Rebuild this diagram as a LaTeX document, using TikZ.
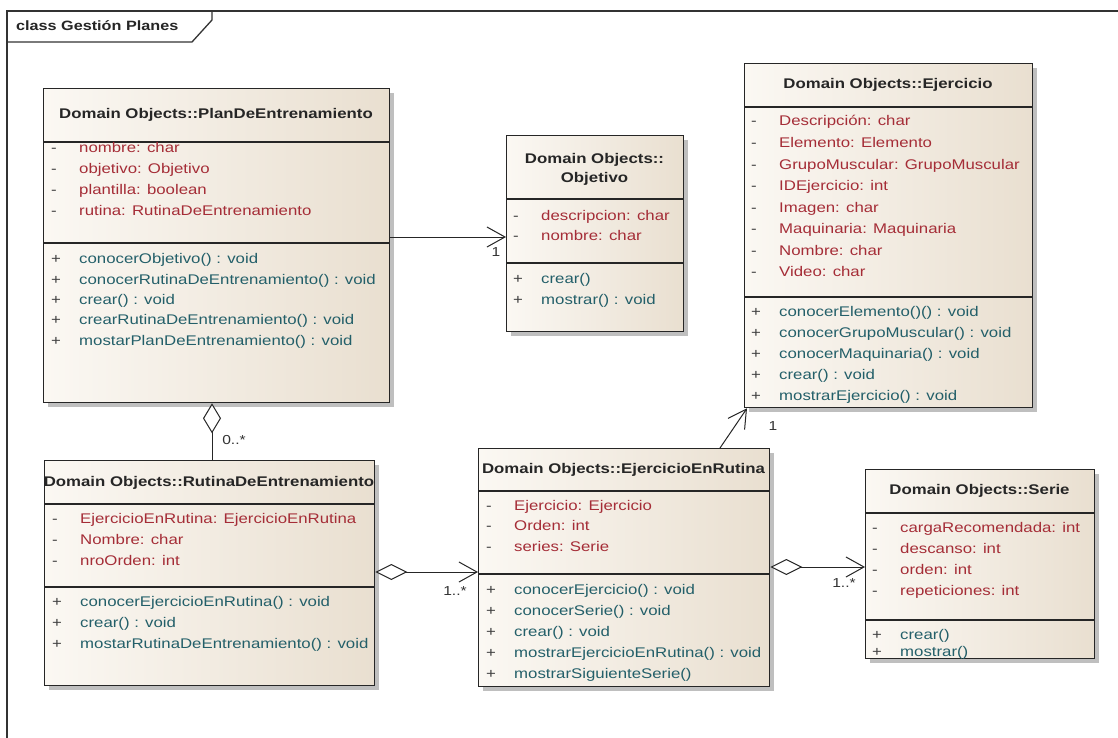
\documentclass[tikz,border=0pt]{standalone}
\usepackage{fontspec}
\newfontfamily\umlf[FakeStretch=1.2]{Liberation Sans}
\usetikzlibrary{arrows.meta,shadows}
\definecolor{attrred}{RGB}{165,45,55}
\definecolor{opteal}{RGB}{35,95,105}
\definecolor{boxL}{RGB}{251,248,243}
\definecolor{boxR}{RGB}{233,223,208}
\newcommand{\tf}{\umlf\fontsize{14}{19}\selectfont}
\newcommand{\uatt}[4]{\node[vis] (#1v) at (#2,#3) {-};\node[atxt] (#1) at (#2+28,#3) {#4};}
\newcommand{\uop}[4]{\node[vis] (#1v) at (#2,#3) {+};\node[otxt] (#1) at (#2+28,#3) {#4};}
\begin{document}
\begin{tikzpicture}[x=1pt,y=-1pt,
  classbox/.style={draw=black!85, line width=1.3pt, left color=boxL, right color=boxR,
    drop shadow={shadow xshift=4pt, shadow yshift=-4pt, fill=black!45, opacity=0.55},
    inner sep=0pt, anchor=north west},
  sepline/.style={draw=black!85, line width=1.1pt},
  linetext/.style={anchor=west, inner sep=0pt, font=\tf, text height=10pt, text depth=3pt},
  vis/.style={linetext, text=black!75},
  atxt/.style={linetext, text=attrred},
  otxt/.style={linetext, text=opteal},
  ttl/.style={inner sep=0pt, font=\tf\bfseries, text=black!85},
  mult/.style={inner sep=0pt, font=\umlf\fontsize{13}{15}\selectfont, text=black!80},
  assoc/.style={draw=black!85, line width=1pt, -{Straight Barb[length=18pt,width=20pt]}},
  aggr/.style={draw=black!85, line width=1pt},
  frame/.style={draw=black!80, line width=1.3pt}]
\useasboundingbox (0,0) rectangle (1118,738);
\fill[white] (0,0) rectangle (1118,738);
% frame
\draw[frame] (7,745) -- (7,11) -- (1125,11);
\draw[frame] (7,42) -- (192,42) -- (212,20) -- (212,11);
\node[ttl, anchor=west, font=\umlf\fontsize{13.5}{16}\selectfont\bfseries] (frm) at (16,26) {class Gestión Planes};

% PlanDeEntrenamiento
\node[classbox, minimum width=346pt, minimum height=314pt] (plan) at (43,88) {};
\draw[sepline] (43,142) -- (389,142);
\draw[sepline] (43,243) -- (389,243);
\node[ttl] (plan-t) at (216,115) {Domain Objects::PlanDeEntrenamiento};
\uatt{pa1}{51}{149}{nombre: char}
\uatt{pa2}{51}{170}{objetivo: Objetivo}
\uatt{pa3}{51}{191}{plantilla: boolean}
\uatt{pa4}{51}{212}{rutina: RutinaDeEntrenamiento}
\uop{po1}{51}{260}{conocerObjetivo() : void}
\uop{po2}{51}{281}{conocerRutinaDeEntrenamiento() : void}
\uop{po3}{51}{301}{crear() : void}
\uop{po4}{51}{321}{crearRutinaDeEntrenamiento() : void}
\uop{po5}{51}{342}{mostarPlanDeEntrenamiento() : void}

% Objetivo
\node[classbox, minimum width=177pt, minimum height=196pt] (obj) at (506,135) {};
\draw[sepline] (506,199) -- (683,199);
\draw[sepline] (506,263) -- (683,263);
\node[ttl, align=center] (obj-t) at (594.5,169) {Domain Objects::\\Objetivo};
\uatt{oa1}{513}{217}{descripcion: char}
\uatt{oa2}{513}{237}{nombre: char}
\uop{oo1}{513}{280}{crear()}
\uop{oo2}{513}{301}{mostrar() : void}

% Ejercicio
\node[classbox, minimum width=288pt, minimum height=344pt] (ej) at (744,63) {};
\draw[sepline] (744,107) -- (1032,107);
\draw[sepline] (744,297) -- (1032,297);
\node[ttl] (ej-t) at (888,85) {Domain Objects::Ejercicio};
\uatt{ea1}{751}{122}{Descripción: char}
\uatt{ea2}{751}{144}{Elemento: Elemento}
\uatt{ea3}{751}{166}{GrupoMuscular: GrupoMuscular}
\uatt{ea4}{751}{187}{IDEjercicio: int}
\uatt{ea5}{751}{209}{Imagen: char}
\uatt{ea6}{751}{230}{Maquinaria: Maquinaria}
\uatt{ea7}{751}{252}{Nombre: char}
\uatt{ea8}{751}{273}{Video: char}
\uop{eo1}{751}{313}{conocerElemento()() : void}
\uop{eo2}{751}{334}{conocerGrupoMuscular() : void}
\uop{eo3}{751}{355}{conocerMaquinaria() : void}
\uop{eo4}{751}{376}{crear() : void}
\uop{eo5}{751}{397}{mostrarEjercicio() : void}

% RutinaDeEntrenamiento
\node[classbox, minimum width=330pt, minimum height=225pt] (rut) at (44,460) {};
\draw[sepline] (44,504) -- (374,504);
\draw[sepline] (44,587) -- (374,587);
\node[ttl] (rut-t) at (209,483) {Domain Objects::RutinaDeEntrenamiento};
\uatt{ra1}{52}{520}{EjercicioEnRutina: EjercicioEnRutina}
\uatt{ra2}{52}{541}{Nombre: char}
\uatt{ra3}{52}{562}{nroOrden: int}
\uop{ro1}{52}{603}{conocerEjercicioEnRutina() : void}
\uop{ro2}{52}{624}{crear() : void}
\uop{ro3}{52}{645}{mostarRutinaDeEntrenamiento() : void}

% EjercicioEnRutina
\node[classbox, minimum width=291pt, minimum height=238pt] (eer) at (478,448) {};
\draw[sepline] (478,491) -- (769,491);
\draw[sepline] (478,574) -- (769,574);
\node[ttl] (eer-t) at (623.5,470) {Domain Objects::EjercicioEnRutina};
\uatt{xa1}{486}{507}{Ejercicio: Ejercicio}
\uatt{xa2}{486}{527}{Orden: int}
\uatt{xa3}{486}{548}{series: Serie}
\uop{xo1}{486}{591}{conocerEjercicio() : void}
\uop{xo2}{486}{612}{conocerSerie() : void}
\uop{xo3}{486}{633}{crear() : void}
\uop{xo4}{486}{654}{mostrarEjercicioEnRutina() : void}
\uop{xo5}{486}{675}{mostrarSiguienteSerie()}

% Serie
\node[classbox, minimum width=229pt, minimum height=189pt] (ser) at (865,469) {};
\draw[sepline] (865,513) -- (1094,513);
\draw[sepline] (865,620) -- (1094,620);
\node[ttl] (ser-t) at (979.5,491) {Domain Objects::Serie};
\uatt{sa1}{872}{529}{cargaRecomendada: int}
\uatt{sa2}{872}{550}{descanso: int}
\uatt{sa3}{872}{571}{orden: int}
\uatt{sa4}{872}{592}{repeticiones: int}
\uop{so1}{872}{636}{crear()}
\uop{so2}{872}{653}{mostrar()}

% connectors
\coordinate (y237) at (0,237);
\coordinate (x212) at (212,0);
\coordinate (y572) at (0,572);
\coordinate (x720) at (720,0);
\coordinate (x747) at (747,0);
\coordinate (y567) at (0,567);
\draw[assoc] (plan.east |- y237) -- (obj.west |- y237);
\draw[aggr, {Diamond[fill=white,length=30pt,width=18pt]}-] (plan.south -| x212) -- (rut.north -| x212);
\draw[aggr, {Diamond[fill=white,length=32pt,width=16pt]}-{Straight Barb[length=18pt,width=20pt]}] (rut.east |- y572) -- (eer.west |- y572);
\draw[assoc] (eer.north -| x720) -- (ej.south -| x747);
\draw[aggr, {Diamond[fill=white,length=32pt,width=16pt]}-{Straight Barb[length=18pt,width=20pt]}] (eer.east |- y567) -- (ser.west |- y567);

\node[mult] (m1) at (496,252) {1};
\node[mult] (m2) at (234,440) {0..*};
\node[mult] (m3) at (455,591) {1..*};
\node[mult] (m4) at (773,426) {1};
\node[mult] (m5) at (844,583) {1..*};
\end{tikzpicture}
\end{document}
